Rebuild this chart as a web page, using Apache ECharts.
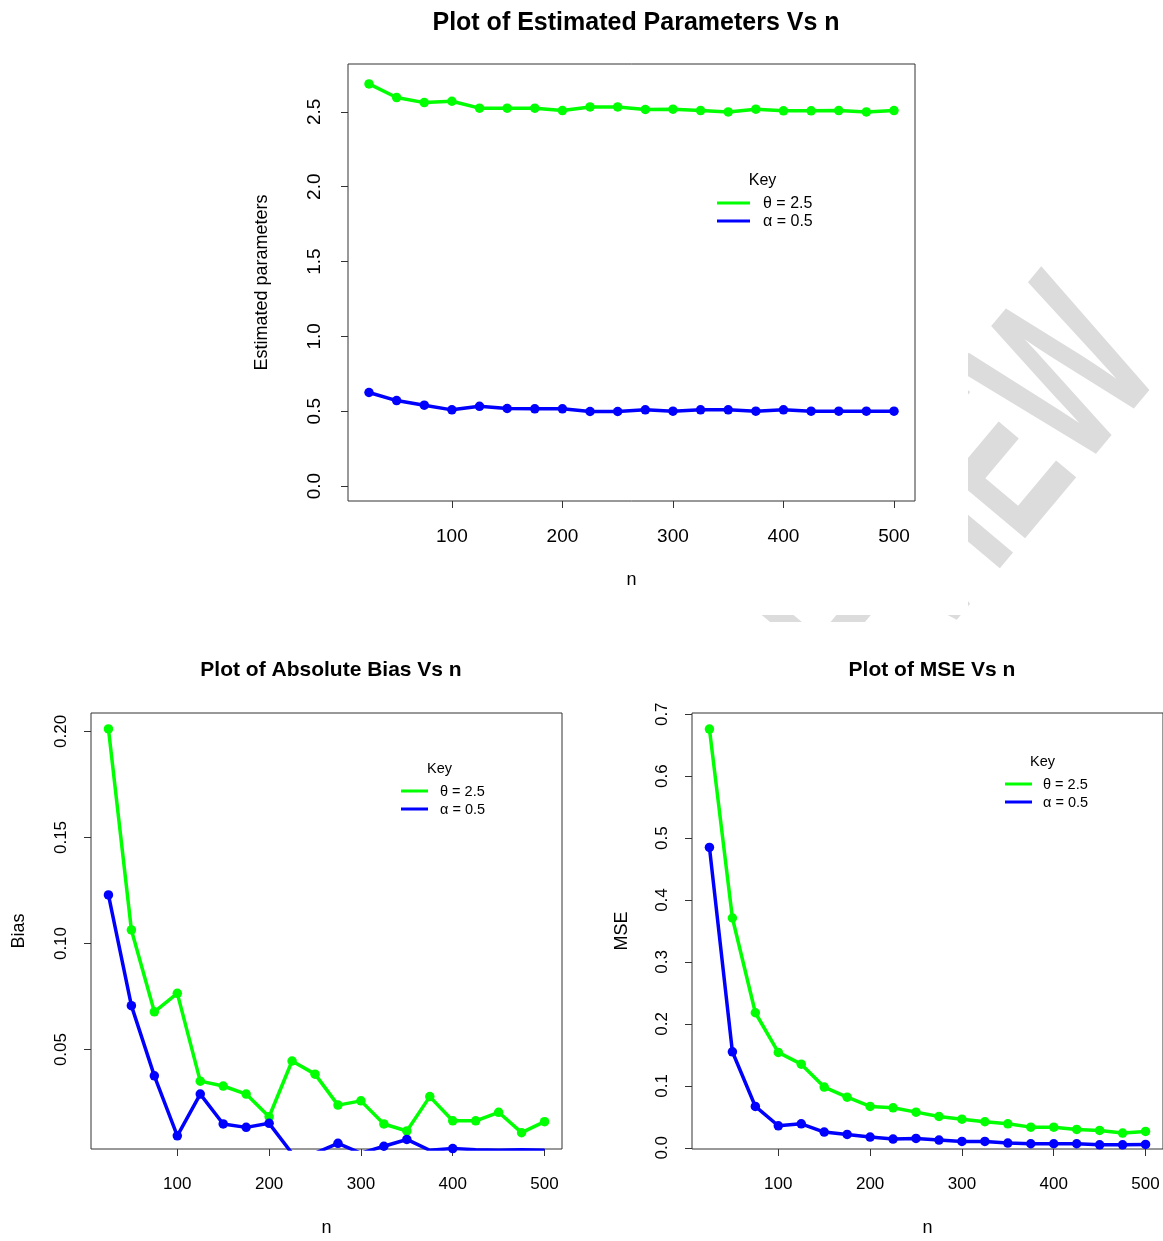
<!DOCTYPE html>
<html><head><meta charset="utf-8">
<script src="https://cdn.jsdelivr.net/npm/echarts@6/dist/echarts.min.js"></script>
<style>html,body{margin:0;padding:0;background:#fff}#c{width:1163px;height:1241px}</style>
</head><body><div id="c"></div>
<script>
// ---- data ----
const nValues = [25,50,75,100,125,150,175,200,225,250,275,300,325,350,375,400,425,450,475,500];
const estTheta = [2.687,2.596,2.562,2.571,2.525,2.525,2.525,2.509,2.533,2.533,2.516,2.518,2.509,2.500,2.518,2.507,2.507,2.509,2.500,2.509];
const estAlpha = [0.625,0.571,0.540,0.509,0.533,0.518,0.516,0.516,0.498,0.498,0.509,0.500,0.509,0.509,0.500,0.509,0.500,0.500,0.500,0.500];
const biasTheta = [0.2012,0.1064,0.0678,0.0765,0.0351,0.0328,0.0290,0.0183,0.0446,0.0384,0.0238,0.0258,0.0149,0.0116,0.0278,0.0164,0.0164,0.0204,0.0108,0.0160];
const biasAlpha = [0.1229,0.0707,0.0376,0.0093,0.0290,0.0149,0.0133,0.0152,0.0010,0.0011,0.0058,0.0011,0.0044,0.0076,0.0025,0.0033,0.0028,0.0025,0.0028,0.0025];
const mseTheta = [0.676,0.371,0.218,0.154,0.135,0.098,0.0817,0.0667,0.0645,0.0575,0.0505,0.0462,0.0420,0.0387,0.0333,0.0333,0.0296,0.0280,0.0237,0.0263];
const mseAlpha = [0.485,0.155,0.0667,0.0355,0.0387,0.0253,0.0215,0.0172,0.0140,0.0150,0.0124,0.0102,0.0102,0.0075,0.0065,0.0065,0.0065,0.0048,0.0048,0.0054];
const xTicks = [100,200,300,400,500];
const estTicks = [0,0.5,1,1.5,2,2.5];
const biasTicks = [0.05,0.10,0.15,0.20];
const mseTicks = [0,0.1,0.2,0.3,0.4,0.5,0.6,0.7];
const legendLabels = ['\u03b8 = 2.5', '\u03b1 = 0.5'];
const titles = ['Plot of Estimated Parameters Vs n','Plot of Absolute Bias Vs n','Plot of MSE Vs n'];
const yNames = ['Estimated parameters','Bias','MSE'];

// ---- styling ----
const FONT = '"Liberation Sans", Arial, sans-serif';
const GREEN = '#00ff00', BLUE = '#0000ff';
const chart = echarts.init(document.getElementById('c'));
function pairs(xs, ys){ return xs.map((x,i)=>[x, ys[i]]); }

function xAxisCfg(gi, fs, margin, gap){
  return {type:'value', gridIndex:gi, min:6, max:519, name:'n', nameLocation:'middle', nameGap:gap,
    nameTextStyle:{fontFamily:FONT,fontSize:18,color:'#000'},
    axisLine:{show:false,onZero:false}, splitLine:{show:false},
    axisTick:{show:true,length:7,customValues:xTicks,lineStyle:{color:'#333'}},
    axisLabel:{customValues:xTicks,fontFamily:FONT,fontSize:fs,color:'#000',margin:margin}};
}
function yAxisCfg(gi, min, max, ticks, dec, fs, margin, name, gap){
  return {type:'value', gridIndex:gi, min:min, max:max, name:name, nameLocation:'middle', nameGap:gap,
    nameRotate:90, nameTextStyle:{fontFamily:FONT,fontSize:18,color:'#000'},
    axisLine:{show:false,onZero:false}, splitLine:{show:false},
    axisTick:{show:true,length:7,customValues:ticks,lineStyle:{color:'#333'}},
    axisLabel:{customValues:ticks,rotate:90,fontFamily:FONT,fontSize:fs,color:'#000',margin:margin,
      formatter:v=>v.toFixed(dec)}};
}
function lineSeries(xi, data, color){
  return {type:'line', xAxisIndex:xi, yAxisIndex:xi, data:data, symbol:'circle', symbolSize:9.5,
    lineStyle:{width:3.5,color:color}, itemStyle:{color:color}, clip:true, z:3, animation:false};
}
function legendGroup(kx, ky, lx1, lx2, ly1, ly2, tx, fs){
  return [
    {type:'text', x:kx, y:ky, style:{text:'Key', font:fs+'px '+FONT, fill:'#000', align:'center', verticalAlign:'middle'}, z:10},
    {type:'line', shape:{x1:lx1,y1:ly1,x2:lx2,y2:ly1}, style:{stroke:GREEN,lineWidth:3}, z:10},
    {type:'line', shape:{x1:lx1,y1:ly2,x2:lx2,y2:ly2}, style:{stroke:BLUE,lineWidth:3}, z:10},
    {type:'text', x:tx, y:ly1+1, style:{text:legendLabels[0], font:fs+'px '+FONT, fill:'#000', align:'left', verticalAlign:'middle'}, z:10},
    {type:'text', x:tx, y:ly2+1, style:{text:legendLabels[1], font:fs+'px '+FONT, fill:'#000', align:'left', verticalAlign:'middle'}, z:10}
  ];
}

const option = {
  backgroundColor:'#fff',
  animation:false,
  title:[
    {text:titles[0], left:631, top:6, textAlign:'center', textStyle:{fontFamily:FONT,fontSize:25,fontWeight:'bold',color:'#000'}},
    {text:titles[1], left:326, top:655, textAlign:'center', textStyle:{fontFamily:FONT,fontSize:21,fontWeight:'bold',color:'#000'}},
    {text:titles[2], left:927, top:655, textAlign:'center', textStyle:{fontFamily:FONT,fontSize:21,fontWeight:'bold',color:'#000'}}
  ],
  grid:[
    {left:348, top:64, width:567, height:437, show:true, borderColor:'#333', borderWidth:1, backgroundColor:'transparent'},
    {left:91, top:713, width:471, height:436, show:true, borderColor:'#333', borderWidth:1, backgroundColor:'transparent'},
    {left:692, top:713, width:472, height:436, show:true, borderColor:'#333', borderWidth:1, backgroundColor:'transparent'}
  ],
  xAxis:[ xAxisCfg(0,19,26,70), xAxisCfg(1,17,27,70), xAxisCfg(2,17,27,70) ],
  yAxis:[
    yAxisCfg(0,-0.1,2.82,estTicks,1,19,24,yNames[0],77),
    yAxisCfg(1,0.0031,0.2087,biasTicks,2,17,21,yNames[1],63),
    yAxisCfg(2,-0.002,0.702,mseTicks,1,17,21,yNames[2],61)
  ],
  series:[
    lineSeries(0, pairs(nValues, estTheta), GREEN),
    lineSeries(0, pairs(nValues, estAlpha), BLUE),
    lineSeries(1, pairs(nValues, biasTheta), GREEN),
    lineSeries(1, pairs(nValues, biasAlpha), BLUE),
    lineSeries(2, pairs(nValues, mseTheta), GREEN),
    lineSeries(2, pairs(nValues, mseAlpha), BLUE)
  ],
  graphic:[
    {type:'text', x:906, y:579, rotation:50*Math.PI/180, scaleX:0.6,
      style:{text:'PREVIEW', font:'bold 236px '+FONT, fill:'#dcdcdc', align:'center', verticalAlign:'middle'}, z:-3},
    {type:'rect', shape:{x:0,y:0,width:968,height:615}, style:{fill:'#fff'}, z:-2},
    {type:'rect', shape:{x:0,y:622,width:1163,height:619}, style:{fill:'#fff'}, z:-2}
  ].concat(
    legendGroup(762.5, 181, 717, 750, 203, 221, 763, 16),
    legendGroup(439.5, 769, 401, 428, 791, 809, 440, 14.5),
    legendGroup(1042.5, 762, 1005, 1032, 784, 802, 1043, 14.5)
  )
};
chart.setOption(option);
</script></body></html>
